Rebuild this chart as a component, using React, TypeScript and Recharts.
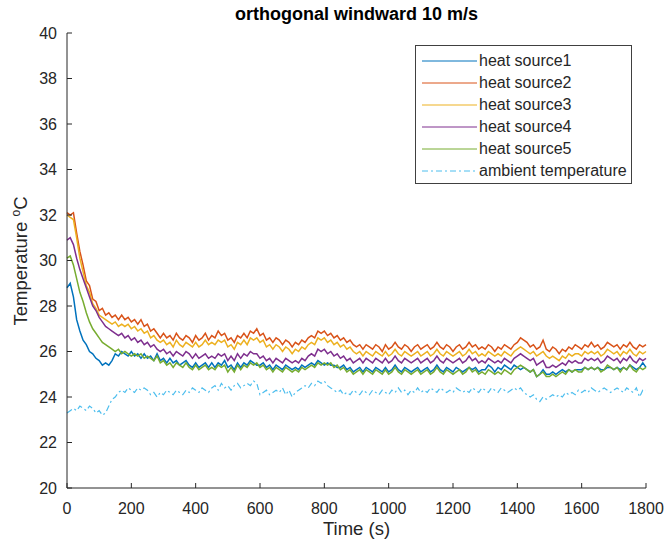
import { LineChart, Line, XAxis, YAxis, Legend } from 'recharts';

// sampled every 10 s from 0 to 1800 s
const TIME_STEP = 10;

const source1 = [
  28.8, 29.0, 28.4, 27.4, 26.9, 26.5, 26.3, 26.0, 25.9, 25.7,
  25.6, 25.4, 25.5, 25.4, 25.6, 25.9, 25.8, 26.0, 25.9, 25.8,
  26.0, 25.8, 25.9, 25.7, 25.9, 25.7, 25.8, 25.6, 25.9, 25.6,
  25.7, 25.5, 25.7, 25.5, 25.6, 25.4, 25.5, 25.6, 25.4, 25.3,
  25.5, 25.3, 25.4, 25.5, 25.3, 25.5, 25.3, 25.5, 25.4, 25.6,
  25.3, 25.4, 25.2, 25.5, 25.3, 25.5, 25.4, 25.6, 25.5, 25.4,
  25.4, 25.5, 25.3, 25.4, 25.2, 25.4, 25.3, 25.2, 25.4, 25.3,
  25.2, 25.3, 25.2, 25.4, 25.3, 25.4, 25.5, 25.4, 25.6, 25.5,
  25.4, 25.5, 25.4, 25.4, 25.3, 25.3, 25.4, 25.2, 25.3, 25.1,
  25.2, 25.3, 25.1, 25.3, 25.2, 25.1, 25.3, 25.2, 25.1, 25.3,
  25.1, 25.2, 25.4, 25.2, 25.1, 25.3, 25.2, 25.1, 25.2, 25.3,
  25.1, 25.2, 25.3, 25.1, 25.2, 25.4, 25.2, 25.1, 25.3, 25.2,
  25.1, 25.3, 25.2, 25.1, 25.2, 25.3, 25.2, 25.3, 25.1, 25.2,
  25.2, 25.4, 25.3, 25.1, 25.3, 25.2, 25.4, 25.3, 25.2, 25.4,
  25.3, 25.2, 25.3, 25.2, 25.1, 25.2, 24.9, 25.0, 25.2, 25.0,
  25.0, 25.1, 25.0, 25.1, 25.2, 25.1, 25.2, 25.1, 25.2, 25.2,
  25.2, 25.3, 25.2, 25.3, 25.2, 25.3, 25.2, 25.2, 25.3, 25.3,
  25.2, 25.3, 25.2, 25.3, 25.2, 25.4, 25.3, 25.2, 25.3, 25.5,
  25.3,
];

const source2 = [
  32.1, 32.0, 32.1, 31.2, 30.4, 29.8, 29.1, 28.9, 28.3, 28.2,
  27.8, 27.9, 27.6, 27.7, 27.5, 27.6, 27.4, 27.6, 27.4, 27.5,
  27.3, 27.4, 27.2, 27.4, 27.1, 27.2, 26.9, 27.0, 26.8, 26.6,
  26.8, 26.6, 26.7, 26.5, 26.8, 26.6, 26.5, 26.7, 26.6, 26.4,
  26.7, 26.5, 26.6, 26.8, 26.5, 26.7, 26.6, 26.9, 26.7, 26.8,
  26.5, 26.6, 26.4, 26.7, 26.6, 26.8, 26.6, 26.9, 26.8, 27.0,
  26.7, 26.8, 26.5, 26.6, 26.4, 26.6, 26.5, 26.3, 26.5, 26.4,
  26.2, 26.4, 26.3, 26.5, 26.4, 26.6, 26.7, 26.6, 26.9, 26.8,
  26.9, 26.7, 26.8, 26.6, 26.7, 26.5, 26.6, 26.4, 26.5, 26.3,
  26.2, 26.3, 26.1, 26.3, 26.2, 26.1, 26.3, 26.2, 26.0, 26.3,
  26.1, 26.2, 26.4, 26.2, 26.1, 26.3, 26.2, 26.0, 26.2, 26.3,
  26.1, 26.2, 26.3, 26.1, 26.2, 26.4, 26.2, 26.1, 26.3, 26.2,
  26.0, 26.2, 26.3, 26.1, 26.2, 26.4, 26.2, 26.3, 26.1, 26.2,
  26.1, 26.3, 26.2, 26.0, 26.2, 26.1, 26.3, 26.2, 26.1, 26.3,
  26.4, 26.6, 26.5, 26.4, 26.2, 26.3, 26.1, 26.2, 26.5, 26.1,
  26.0, 26.2, 26.1, 25.9, 26.1, 26.0, 26.2, 26.1, 26.3, 26.2,
  26.1, 26.3, 26.2, 26.4, 26.2, 26.3, 26.1, 26.2, 26.4, 26.3,
  26.2, 26.3, 26.1, 26.3, 26.2, 26.4, 26.2, 26.1, 26.3, 26.2,
  26.3,
];

const source3 = [
  32.0, 31.9, 31.8, 31.0, 30.1, 29.5, 28.9, 28.6, 28.1, 27.9,
  27.6, 27.5, 27.4, 27.3, 27.2, 27.3, 27.1, 27.2, 27.1, 27.2,
  27.0, 27.1, 26.9, 27.0, 26.8, 26.9, 26.6, 26.7, 26.5, 26.4,
  26.5, 26.3, 26.4, 26.2, 26.5, 26.3, 26.2, 26.4, 26.3, 26.2,
  26.4, 26.2, 26.3, 26.5, 26.3, 26.4, 26.3, 26.5, 26.4, 26.5,
  26.2, 26.3, 26.1, 26.4, 26.3, 26.5, 26.3, 26.6, 26.5, 26.6,
  26.4, 26.5, 26.2, 26.3, 26.1, 26.3, 26.2, 26.0, 26.2, 26.1,
  25.9, 26.1, 26.0, 26.2, 26.1, 26.3, 26.4, 26.3, 26.6, 26.5,
  26.6, 26.4, 26.5, 26.3, 26.4, 26.2, 26.3, 26.1, 26.2, 26.0,
  25.9, 26.0, 25.8, 26.0, 25.9, 25.8, 26.0, 25.9, 25.8, 26.0,
  25.8, 25.9, 26.1, 25.9, 25.8, 26.0, 25.9, 25.8, 25.9, 26.0,
  25.8, 25.9, 26.0, 25.8, 25.9, 26.1, 25.9, 25.8, 26.0, 25.9,
  25.8, 25.9, 26.0, 25.8, 25.9, 26.1, 25.9, 26.0, 25.8, 25.9,
  25.8, 26.0, 25.9, 25.8, 25.9, 25.8, 26.0, 25.9, 25.8, 26.0,
  26.1, 26.2, 26.1, 26.0, 25.9, 26.0, 25.8, 25.9, 26.0, 25.8,
  25.7, 25.8, 25.7, 25.6, 25.8, 25.7, 25.9, 25.8, 25.9, 25.9,
  25.8, 26.0, 25.9, 26.0, 25.9, 26.0, 25.8, 25.9, 26.1, 26.0,
  25.9, 26.0, 25.8, 26.0, 25.9, 26.1, 25.9, 25.8, 26.0, 25.9,
  26.0,
];

const source4 = [
  30.9, 31.0, 30.7, 30.1, 29.6, 29.2, 28.8, 28.4, 28.0, 27.8,
  27.5, 27.3, 27.1, 27.0, 26.9, 26.8, 26.7, 26.8, 26.6, 26.7,
  26.5, 26.6, 26.4, 26.5, 26.3, 26.4, 26.2, 26.3, 26.1, 26.0,
  26.1, 25.9, 26.0, 25.8, 26.0, 25.9, 25.8, 26.0, 25.9, 25.7,
  25.9, 25.7, 25.8, 25.9, 25.7, 25.8, 25.7, 25.9, 25.8, 25.9,
  25.6, 25.8, 25.6, 25.9, 25.7, 25.9, 25.8, 26.0, 25.9, 25.9,
  25.7, 25.8, 25.6, 25.7, 25.5, 25.7, 25.6, 25.5, 25.7, 25.6,
  25.5, 25.6, 25.5, 25.7, 25.6, 25.8, 25.9, 25.8, 26.1, 26.0,
  26.1, 25.9, 26.0, 25.8, 25.9, 25.7, 25.8, 25.6, 25.7, 25.5,
  25.6, 25.7, 25.5, 25.7, 25.6, 25.5, 25.7, 25.6, 25.5, 25.7,
  25.5, 25.6, 25.8, 25.6, 25.5, 25.7, 25.6, 25.5, 25.6, 25.7,
  25.5, 25.6, 25.7, 25.5, 25.6, 25.8, 25.6, 25.5, 25.7, 25.6,
  25.5, 25.6, 25.7, 25.5, 25.6, 25.8, 25.6, 25.7, 25.5, 25.6,
  25.5, 25.7, 25.6, 25.5, 25.6, 25.5, 25.7, 25.6, 25.5, 25.7,
  25.8, 25.9, 25.8, 25.7, 25.6, 25.7, 25.4, 25.5, 25.6, 25.3,
  25.3, 25.4, 25.3, 25.4, 25.5, 25.4, 25.6, 25.5, 25.6, 25.5,
  25.5, 25.7, 25.6, 25.7, 25.6, 25.7, 25.5, 25.6, 25.8, 25.7,
  25.6, 25.7, 25.5, 25.7, 25.6, 25.8, 25.6, 25.5, 25.7, 25.6,
  25.7,
];

const source5 = [
  30.1, 30.2, 29.8, 29.2, 28.6, 28.2, 27.7, 27.3, 27.0, 26.8,
  26.6, 26.4, 26.3, 26.2, 26.1, 26.0, 26.1, 25.9, 26.0, 25.9,
  25.8, 25.9, 25.8, 25.9, 25.7, 25.8, 25.7, 25.6, 25.8, 25.5,
  25.6, 25.4, 25.5, 25.3, 25.5, 25.4, 25.3, 25.5, 25.3, 25.2,
  25.4, 25.2, 25.3, 25.4, 25.2, 25.3, 25.2, 25.4, 25.3, 25.4,
  25.1, 25.3, 25.1, 25.4, 25.2, 25.4, 25.3, 25.5, 25.4, 25.5,
  25.3, 25.4, 25.2, 25.3, 25.1, 25.3, 25.2, 25.1, 25.3, 25.2,
  25.1, 25.2, 25.1, 25.3, 25.2, 25.3, 25.4, 25.3, 25.5, 25.4,
  25.5, 25.4, 25.5, 25.3, 25.4, 25.2, 25.3, 25.1, 25.2, 25.0,
  25.1, 25.2, 25.0, 25.2, 25.1, 25.0, 25.2, 25.1, 25.0, 25.2,
  25.0, 25.1, 25.3, 25.1, 25.0, 25.2, 25.1, 25.0, 25.1, 25.2,
  25.0, 25.1, 25.2, 25.0, 25.1, 25.3, 25.1, 25.0, 25.2, 25.1,
  25.0, 25.1, 25.2, 25.0, 25.1, 25.3, 25.1, 25.2, 25.0, 25.1,
  25.0, 25.2, 25.1, 25.0, 25.1, 25.0, 25.2, 25.1, 25.0, 25.2,
  25.3, 25.4, 25.3, 25.2, 25.1, 25.2, 24.9, 25.0, 25.1, 24.9,
  24.9, 25.0, 24.9, 25.0, 25.1, 25.0, 25.2, 25.1, 25.2, 25.1,
  25.1, 25.3, 25.2, 25.3, 25.2, 25.3, 25.1, 25.2, 25.4, 25.3,
  25.2, 25.3, 25.1, 25.3, 25.2, 25.4, 25.2, 25.1, 25.3, 25.2,
  25.3,
];

const ambient = [
  23.3, 23.4, 23.5, 23.4, 23.6, 23.5, 23.4, 23.6, 23.5, 23.3,
  23.4, 23.2, 23.3, 23.6, 23.9, 24.0, 24.2, 24.3, 24.2, 24.4,
  24.3, 24.2, 24.4, 24.3, 24.4, 24.3, 24.1, 24.2, 24.0, 24.2,
  24.1, 24.3, 24.2, 24.1, 24.3, 24.2, 24.1, 24.3, 24.2, 24.4,
  24.3, 24.2, 24.4, 24.3, 24.2, 24.4, 24.5, 24.3, 24.6, 24.4,
  24.5, 24.3, 24.5, 24.6, 24.4, 24.5, 24.6, 24.5, 24.7, 24.6,
  24.1, 24.2, 24.3, 24.1, 24.2, 24.3, 24.2, 24.4, 24.1, 24.3,
  24.0, 24.2, 24.3, 24.4, 24.5, 24.4, 24.6, 24.5, 24.7, 24.6,
  24.7, 24.5, 24.4, 24.3, 24.2, 24.3, 24.1, 24.2, 24.1, 24.3,
  24.2, 24.1, 24.3, 24.2, 24.1, 24.3, 24.2, 24.1, 24.3, 24.2,
  24.1, 24.3, 24.2, 24.4, 24.2, 24.3, 24.1, 24.3, 24.2, 24.4,
  24.2, 24.3, 24.2, 24.4, 24.3, 24.2, 24.4, 24.3, 24.2, 24.3,
  24.2, 24.4, 24.3, 24.2, 24.3, 24.2, 24.4, 24.3, 24.2, 24.4,
  24.3, 24.2, 24.4, 24.3, 24.2, 24.4, 24.3, 24.2, 24.3, 24.4,
  24.3, 24.4, 24.2, 24.1, 24.0, 24.1, 23.9, 23.8, 24.0, 23.9,
  24.0, 24.1, 24.0, 24.1, 24.0, 24.2, 24.1, 24.2, 24.1, 24.3,
  24.2, 24.3, 24.2, 24.4, 24.3, 24.2, 24.3, 24.4, 24.3, 24.2,
  24.3, 24.4, 24.3, 24.2, 24.4, 24.3, 24.2, 24.4, 24.0, 24.3,
  24.3,
];

const xTicks = [0, 200, 400, 600, 800, 1000, 1200, 1400, 1600, 1800];
const yTicks = [20, 22, 24, 26, 28, 30, 32, 34, 36, 38, 40];

const SERIES = [
  { key: 's1', name: 'heat source1', color: '#0072BD', values: source1 },
  { key: 's2', name: 'heat source2', color: '#D95319', values: source2 },
  { key: 's3', name: 'heat source3', color: '#EDB120', values: source3 },
  { key: 's4', name: 'heat source4', color: '#7E2F8E', values: source4 },
  { key: 's5', name: 'heat source5', color: '#77AC30', values: source5 },
  { key: 'amb', name: 'ambient temperature', color: '#4DBEEE', values: ambient, dash: '6 3 2 3' },
];

const data = ambient.map((_, i) => {
  const row: Record<string, number> = { t: i * TIME_STEP };
  SERIES.forEach((s) => { row[s.key] = s.values[i]; });
  return row;
});

const AXIS = '#262626';
const FONT = '"Liberation Sans", Arial, Helvetica, sans-serif';

const seriesIndex = (key: string) => SERIES.findIndex((s) => s.key === key);

const renderLegend = (props: any) => {
  const items = [...(props.payload || [])].sort((a: any, b: any) => seriesIndex(a.dataKey) - seriesIndex(b.dataKey));
  return (
    <div style={{ border: '1px solid #404040', background: '#fff', padding: '4px 0 1px 0', fontFamily: FONT }}>
      {items.map((entry: any) => {
        const s = SERIES[seriesIndex(entry.dataKey)];
        return (
          <div key={entry.dataKey} style={{ display: 'flex', alignItems: 'center', height: 22 }}>
            <svg width={62} height={22} style={{ display: 'block' }}>
              <line x1={6} x2={61} y1={11} y2={11} stroke={entry.color} strokeWidth={1} strokeDasharray={s?.dash} />
            </svg>
            <span style={{ fontSize: 16, color: AXIS, marginLeft: 1, whiteSpace: 'nowrap' }}>{entry.value}</span>
          </div>
        );
      })}
    </div>
  );
};

const renderXLabel = (props: any) => {
  const vb = props.viewBox;
  return (
    <text x={vb.x + vb.width / 2} y={535} textAnchor="middle" fontSize={18.5} fill={AXIS} fontFamily={FONT}>
      Time (s)
    </text>
  );
};

const renderYLabel = () => (
  <text x={27} y={261} transform="rotate(-90, 27, 261)" textAnchor="middle" fontSize={18.5} fill={AXIS} fontFamily={FONT}>
    Temperature <tspan fontSize={12} dy={-7}>o</tspan><tspan dy={7}>C</tspan>
  </text>
);

export default function App() {
  const tickStyle = { fontSize: 16, fill: AXIS, fontFamily: FONT };
  return (
    <div style={{ position: 'absolute', left: 0, top: 0, width: 667, height: 546, background: '#fff', fontFamily: FONT }}>
      <div style={{ position: 'absolute', left: 67, top: 4, width: 579, textAlign: 'center', fontSize: 18, lineHeight: '20px', fontWeight: 'bold', color: '#000' }}>
        orthogonal windward 10 m/s
      </div>
      <LineChart width={667} height={546} data={data} margin={{ top: 33, right: 21, bottom: 28, left: 17 }}>
        <XAxis
          dataKey="t"
          type="number"
          domain={[0, 1800]}
          ticks={xTicks}
          interval={0}
          height={30}
          tickSize={-5}
          tickMargin={20}
          stroke={AXIS}
          tick={tickStyle}
          label={renderXLabel}
        />
        <XAxis
          xAxisId="top"
          orientation="top"
          dataKey="t"
          type="number"
          domain={[0, 1800]}
          ticks={xTicks}
          interval={0}
          height={0}
          tickSize={-5}
          tick={false}
          stroke={AXIS}
        />
        <YAxis
          type="number"
          domain={[20, 40]}
          ticks={yTicks}
          interval={0}
          width={50}
          tickSize={-5}
          tickMargin={15}
          stroke={AXIS}
          tick={tickStyle}
          label={renderYLabel}
        />
        <YAxis
          yAxisId="right"
          orientation="right"
          type="number"
          domain={[20, 40]}
          ticks={yTicks}
          interval={0}
          width={0}
          tickSize={-5}
          tick={false}
          stroke={AXIS}
        />
        {SERIES.map((s) => (
          <Line
            key={s.key}
            type="linear"
            dataKey={s.key}
            name={s.name}
            stroke={s.color}
            strokeWidth={s.dash ? 1.2 : 1.5}
            strokeDasharray={s.dash}
            dot={false}
            activeDot={false}
            isAnimationActive={false}
          />
        ))}
        <Legend
          layout="vertical"
          align="center"
          verticalAlign="middle"
          content={renderLegend}
          wrapperStyle={{ left: 415, top: 45, width: 217, height: 'auto' }}
        />
      </LineChart>
    </div>
  );
}
